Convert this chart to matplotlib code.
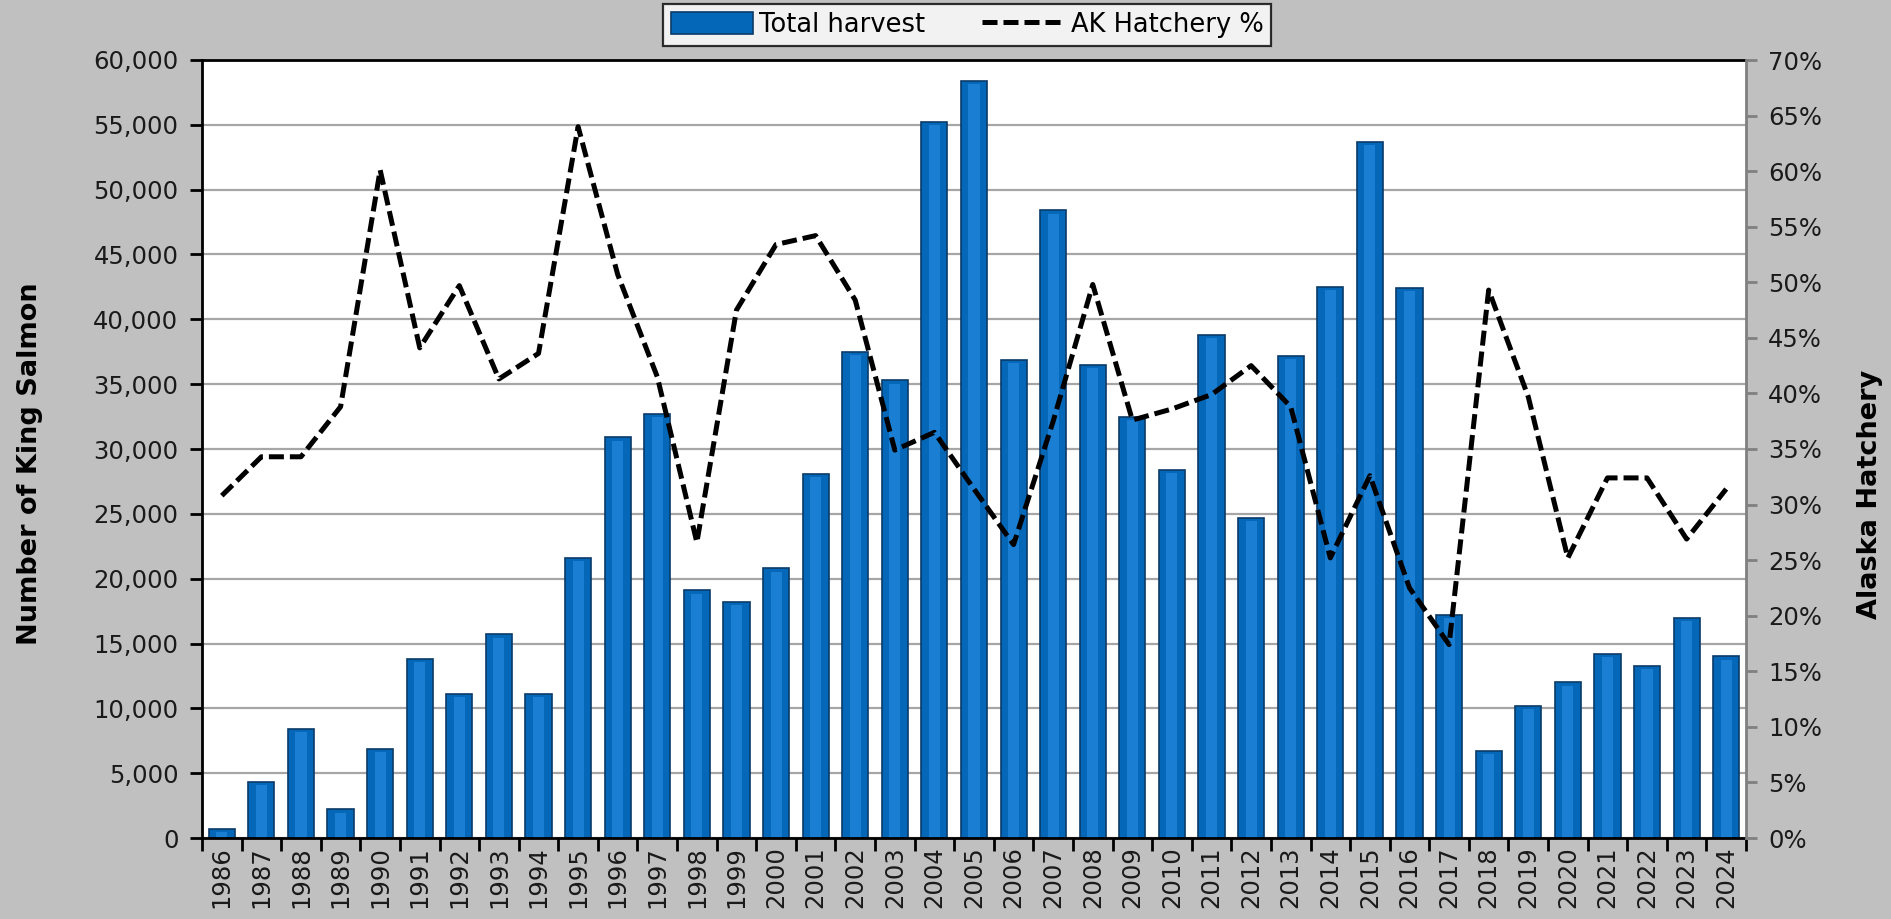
import numpy as np
import matplotlib.pyplot as plt
from matplotlib.ticker import FuncFormatter, MultipleLocator

years = list(range(1986, 2025))
harvest = [700, 4300, 8400, 2200, 6900, 13800, 11100, 15700, 11100, 21600,
           30900, 32700, 19100, 18200, 20800, 28100, 37500, 35300, 55200, 58400,
           36900, 48400, 36500, 32500, 28400, 38800, 24700, 37200, 42500, 53700,
           42400, 17200, 6700, 10200, 12000, 14200, 13300, 17000, 14000]
hatchery_pct = [30.8, 34.3, 34.3, 38.8, 60.1, 44.1, 49.7, 41.3, 43.6, 64.0,
                50.7, 41.5, 26.6, 47.5, 53.4, 54.2, 48.4, 34.9, 36.5, 31.4,
                26.4, 37.5, 49.8, 37.6, 38.6, 39.9, 42.5, 38.8, 25.2, 32.6,
                22.5, 17.4, 49.3, 39.7, 25.2, 32.4, 32.4, 26.9, 31.4]

bg = '#c0c0c0'
fs = 17.5

fig = plt.figure(figsize=(18.91, 9.19), dpi=100, facecolor=bg)
ax = fig.add_axes([202/1891, 1-838/919, (1746-202)/1891, (838-60)/919])
ax.set_facecolor('white')
x = np.arange(len(years))

ax.grid(axis='y', color='#a6a6a6', linewidth=1.6, zorder=0)
ax.set_axisbelow(True)
bars = ax.bar(x, harvest, width=0.66, color='#0567b8', edgecolor='#0b3b68',
              linewidth=1.2, zorder=2, label='Total harvest')
# lighter centre stripe to hint at the cylinder shading
ax.bar(x, np.array(harvest) - 250, width=0.28, color='#1a7fd2', linewidth=0, zorder=2.5)

ax.set_xlim(-0.5, len(years) - 0.5)
ax.set_ylim(0, 60000)
ax.yaxis.set_major_locator(MultipleLocator(5000))
ax.yaxis.set_major_formatter(FuncFormatter(lambda v, p: f'{v:,.0f}'))
ax.set_xticks(x)
ax.set_xticklabels([str(y) for y in years], rotation=90, fontsize=fs, color='#1a1a1a')
ax.set_xticks(np.arange(len(years) + 1) - 0.5, minor=True)
ax.tick_params(axis='x', which='major', length=0, pad=6)
ax.tick_params(axis='x', which='minor', length=9, width=2, color='black')
ax.tick_params(axis='y', length=9, width=2, color='black', labelsize=fs,
               labelcolor='#1a1a1a', pad=8)
for s in ['left', 'bottom', 'top']:
    ax.spines[s].set_linewidth(2)
    ax.spines[s].set_color('black')
ax.spines['right'].set_visible(False)

ax2 = ax.twinx()
line, = ax2.plot(x, hatchery_pct, color='black', linewidth=3.6,
                 linestyle=(0, (3, 1.2)), zorder=5, label='AK Hatchery %')
ax2.set_ylim(0, 70)
ax2.yaxis.set_major_locator(MultipleLocator(5))
ax2.yaxis.set_major_formatter(FuncFormatter(lambda v, p: f'{v:.0f}%'))
ax2.tick_params(axis='y', length=8, width=2, color='#808080', labelsize=fs,
                labelcolor='#1a1a1a', pad=8)
for s in ['left', 'bottom', 'top']:
    ax2.spines[s].set_visible(False)
ax2.spines['right'].set_color('#808080')
ax2.spines['right'].set_linewidth(2)

fig.text(30/1891, 1-464/919, 'Number of King Salmon', rotation=90, fontsize=19.5,
         fontweight='bold', ha='center', va='center')
fig.text(1870/1891, 1-494/919, 'Alaska Hatchery', rotation=90, fontsize=19.5,
         fontweight='bold', ha='center', va='center')

leg = fig.legend([bars, line], ['Total harvest', 'AK Hatchery %'], ncol=2,
                 loc='center', bbox_to_anchor=(967/1891, 1-25/919), fontsize=18.5,
                 frameon=True, fancybox=False, edgecolor='black',
                 handlelength=3.2, handleheight=0.9, columnspacing=2.2,
                 borderpad=0.3, handletextpad=0.25, borderaxespad=0)
leg.get_frame().set_linewidth(1.6)
leg.get_frame().set_facecolor('white')

fig.savefig('out.png', dpi=100, facecolor=bg)
